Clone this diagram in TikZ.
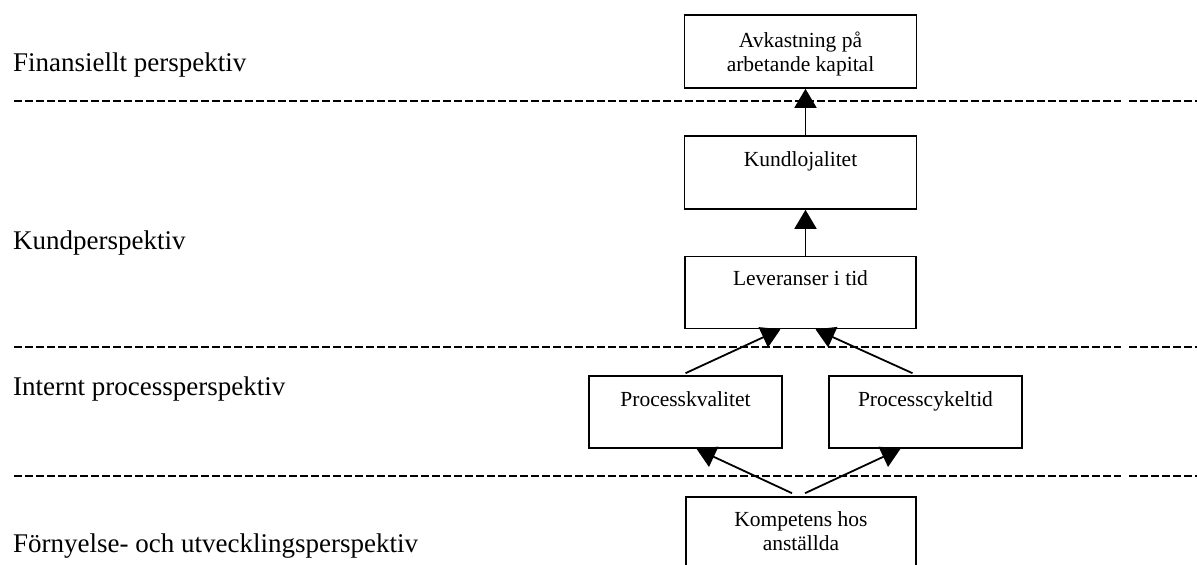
\documentclass[tikz,border=0pt]{standalone}
\usepackage{fontspec}
\setmainfont{Liberation Serif}
\usetikzlibrary{arrows.meta, positioning}

\tikzset{
  box/.style={draw, line width=1.6pt, inner sep=0pt},
  boxtext/.style={inner sep=0pt, align=center, font=\fontsize{21.5}{24}\selectfont},
  perspective/.style={anchor=base west, inner sep=0pt, font=\fontsize{27}{30}\selectfont},
  divider/.style={line width=2.3pt, dash pattern=on 8pt off 3pt},
  link/.style={line width=1.8pt, -{Triangle[length=19pt, width=22pt]}}
}

\begin{document}
\begin{tikzpicture}[x=1pt, y=-1pt]
\clip (0,0) rectangle (1197,565);

% perspective labels
\node[perspective] (fin) at (13,71) {Finansiellt perspektiv};
\node[perspective] (kundp) at (13,249) {Kundperspektiv};
\node[perspective] (intp) at (13,395) {Internt processperspektiv};
\node[perspective] (fornp) at (13,552) {Förnyelse- och utvecklingsperspektiv};

% dividers
\foreach \y in {101,347,476} {
  \draw[divider] (14,\y) -- (1121,\y);
  \draw[divider] (1129,\y) -- (1197,\y);
}

% boxes
\node[box, minimum width=232pt, minimum height=73pt] (avk) at (800.5,51.5) {};
\node[boxtext, below=18pt of avk.north] (avk-t) {Avkastning på\\arbetande kapital};

\node[box, minimum width=232pt, minimum height=73pt] (kund) at (800.5,172.5) {};
\node[boxtext, below=16pt of kund.north] (kund-t) {Kundlojalitet};

\node[box, minimum width=231pt, minimum height=72pt] (lev) at (800.5,292.5) {};
\node[boxtext, below=15pt of lev.north] (lev-t) {Leveranser i tid};

\node[box, minimum width=193pt, minimum height=72pt] (pkv) at (685.5,412) {};
\node[boxtext, below=16pt of pkv.north] (pkv-t) {Processkvalitet};

\node[box, minimum width=193pt, minimum height=72pt] (pct) at (925.5,412) {};
\node[boxtext, below=16pt of pct.north] (pct-t) {Processcykeltid};

\node[box, minimum width=230pt, minimum height=80pt] (komp) at (801,537) {};
\node[boxtext, below=15pt of komp.north] (komp-t) {Kompetens hos\\anställda};

% links
\draw[link] ([xshift=5pt]kund.north) -- ([xshift=5pt]avk.south);
\draw[link] ([xshift=5pt]lev.north) -- ([xshift=5pt]kund.south);
\draw[link] ([yshift=2pt]pkv.north) -- ([xshift=-20pt]lev.south);
\draw[link] ([xshift=-13pt,yshift=2pt]pct.north) -- ([xshift=15pt]lev.south);
\draw[link] ([xshift=-9pt,yshift=3pt]komp.north) -- ([xshift=11pt]pkv.south);
\draw[link] ([xshift=4pt,yshift=3pt]komp.north) -- ([xshift=-25pt]pct.south);
\end{tikzpicture}
\end{document}
